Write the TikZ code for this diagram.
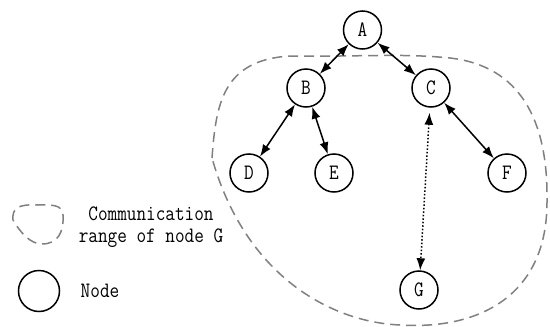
\documentclass[tikz,border=0pt]{standalone}
\usepackage{fontspec}
\setmainfont{Latin Modern Mono}[FakeStretch=0.85]
\usetikzlibrary{arrows.meta}

\begin{document}
\begin{tikzpicture}[x=1pt,y=-1pt,line width=1.5pt,font=\fontsize{22}{22}\selectfont,
  nd/.style={circle,draw,minimum size=38pt,inner sep=0pt},
  link/.style={{Latex[length=12pt,width=9pt]}-{Latex[length=12pt,width=9pt]}},
  commrange/.style={draw=gray,dash pattern=on 10pt off 6pt,line width=1.5pt}]
\useasboundingbox (0,0) rectangle (550,327);
% communication range of G
\draw[commrange] (212,158) .. controls (216,105) and (222,60) .. (290,56) .. controls (360,57) and (400,53) .. (450,58) .. controls (520,66) and (548,120) .. (547,200) .. controls (548,295) and (480,330) .. (400,325) .. controls (330,322) and (245,275) .. (212,158) -- cycle;
% nodes
\node[nd] (A) at (362.5,30) {A};
\node[nd] (B) at (306,88) {B};
\node[nd] (C) at (431,88) {C};
\node[nd] (D) at (249,173) {D};
\node[nd] (E) at (334,173) {E};
\node[nd] (F) at (507,173) {F};
\node[nd] (G) at (419,290) {G};
\draw[link] (A) -- (B);
\draw[link] (A) -- (C);
\draw[link] (B) -- (D);
\draw[link] (B) -- (E);
\draw[link] (C) -- (F);
\draw[link,dotted,shorten <=5pt] (C) -- (G);
% legend
\draw[commrange] (13,220) .. controls (12,208) and (18,204) .. (38,205) .. controls (52,205) and (62,204) .. (63,215) .. controls (64,232) and (58,244) .. (42,244) .. controls (30,244) and (20,232) .. (13,220) -- cycle;
\node[align=center] (rangetxt) at (151,227) {Communication\\range of node G};
\node[nd,minimum size=41pt] (legnd) at (39,291) {};
\node[anchor=west,inner sep=0pt] (legtxt) at (80,291) {Node};
\end{tikzpicture}
\end{document}
